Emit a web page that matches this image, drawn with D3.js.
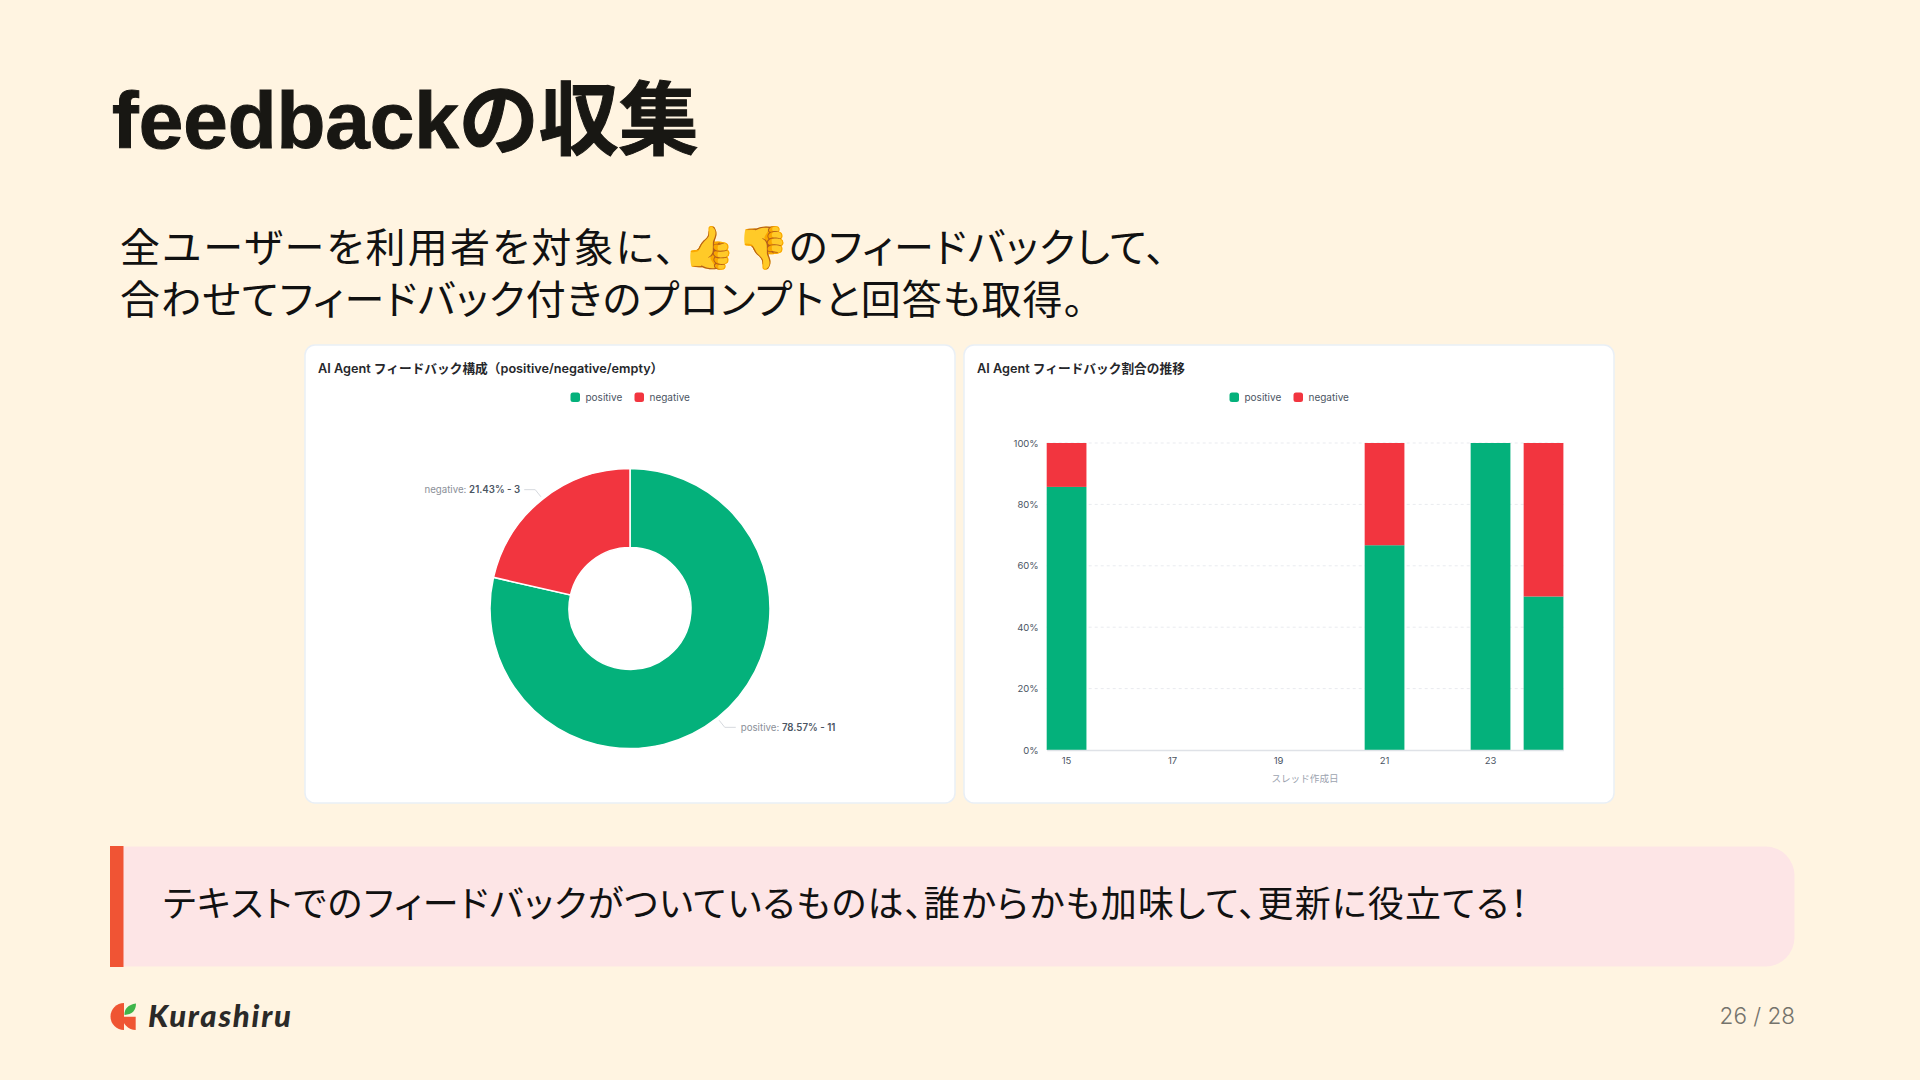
<!DOCTYPE html>
<html>
<head>
<meta charset="utf-8">
<style>
  html, body { margin: 0; padding: 0; background: #fff4e1; }
  svg { display: block; }
  .palt { font-feature-settings: "palt"; }
</style>
<script src="https://cdn.jsdelivr.net/npm/d3@7"></script>
</head>
<body>
<svg id="slide" width="1920" height="1080"></svg>
<script>
const titleText = "feedbackの収集";
const bodyLine1a = "全ユーザーを利用者を対象に、";
const emojiUp = "👍";
const emojiDown = "👎";
const bodyLine1b = "のフィードバックして、";
const bodyLine2 = "合わせてフィードバック付きのプロンプトと回答も取得。";
const calloutText = "テキストでのフィードバックがついているものは、誰からかも加味して、更新に役立てる！";
const pageText = "26 / 28";
const logoText = "Kurashiru";

const seriesNames = ["positive", "negative"];
const seriesColors = ["#04b17b", "#f2353f"];

const donutTitle = "AI Agent フィードバック構成（positive/negative/empty）";
const donutValues = [11, 3];
const donutPercents = ["78.57%", "21.43%"];

const barTitle = "AI Agent フィードバック割合の推移";
const days = [15, 16, 17, 18, 19, 20, 21, 22, 23, 24];
const dayTicks = [15, 17, 19, 21, 23];
const positivePct = [85.7, 0, 0, 0, 0, 0, 66.7, 0, 100, 50];
const negativePct = [14.3, 0, 0, 0, 0, 0, 33.3, 0, 0, 50];
const pctTicks = [0, 20, 40, 60, 80, 100];
const barAxisTitle = "スレッド作成日";

const jp = "'Noto Sans CJK JP', sans-serif";
const latin = "Inter, 'Noto Sans CJK JP', sans-serif";
const svg = d3.select("#slide");

svg.append("text").attr("x", 112).attr("y", 148)
  .attr("font-family", "'Liberation Sans', 'Noto Sans CJK JP', sans-serif")
  .attr("font-weight", 700).attr("font-size", 80).attr("fill", "#181713")
  .attr("stroke", "#181713").attr("stroke-width", 1)
  .text(titleText);

const line1 = svg.append("text").attr("class", "palt").attr("y", 262)
  .attr("font-family", jp).attr("font-size", 40).attr("fill", "#111");
line1.append("tspan").attr("x", 120).attr("letter-spacing", 2.2).text(bodyLine1a);
line1.append("tspan").attr("x", 683).attr("font-size", 42).text(emojiUp);
line1.append("tspan").attr("x", 737).attr("font-size", 42).text(emojiDown);
line1.append("tspan").attr("x", 789).attr("letter-spacing", 1.1).text(bodyLine1b);

svg.append("text").attr("class", "palt").attr("x", 120).attr("y", 314)
  .attr("font-family", jp).attr("font-size", 40).attr("fill", "#111")
  .attr("letter-spacing", 0.95)
  .text(bodyLine2);

// cards
function card(x) {
  svg.append("rect").attr("x", x).attr("y", 345).attr("width", 650).attr("height", 458)
    .attr("rx", 10).attr("fill", "#fff").attr("stroke", "#e9eff6").attr("stroke-width", 1.5);
}
card(305);
card(964);

function cardTitle(x, s) {
  svg.append("text").attr("x", x).attr("y", 373)
    .attr("font-family", latin).attr("font-weight", 600).attr("font-size", 12.7).attr("fill", "#26272b")
    .text(s);
}
cardTitle(318, donutTitle);
cardTitle(977, barTitle);

function legend(xs) {
  seriesNames.forEach((name, i) => {
    svg.append("rect").attr("x", xs[i]).attr("y", 392.5).attr("width", 9.5).attr("height", 9.5)
      .attr("rx", 2.5).attr("fill", seriesColors[i]);
    svg.append("text").attr("x", xs[i] + 15).attr("y", 401)
      .attr("font-family", latin).attr("font-size", 10).attr("fill", "#4b5563").text(name);
  });
}
legend([570.5, 634.5]);
legend([1229.5, 1293.5]);

// donut
const cx = 630, cy = 608.5, outerR = 140, innerR = 61;
const pieGen = d3.pie().sort(null).value(d => d);
const arcGen = d3.arc().innerRadius(innerR).outerRadius(outerR);
const donut = svg.append("g").attr("transform", `translate(${cx},${cy})`);
const slices = pieGen(donutValues);
donut.selectAll("path").data(slices).enter().append("path")
  .attr("d", arcGen)
  .attr("fill", (d, i) => seriesColors[i])
  .attr("stroke", "#fff").attr("stroke-width", 1.5);

const leaderInner = d3.arc().innerRadius(outerR + 3).outerRadius(outerR + 3);
const leaderOuter = d3.arc().innerRadius(outerR + 12).outerRadius(outerR + 12);
slices.forEach((s, i) => {
  const p0 = leaderInner.centroid(s), p1 = leaderOuter.centroid(s);
  const right = p0[0] > 0;
  const p2 = [p1[0] + (right ? 11 : -11), p1[1]];
  donut.append("path").attr("d", d3.line()([p0, p1, p2]))
    .attr("fill", "none").attr("stroke", "#d6d9de").attr("stroke-width", 1);
  const label = donut.append("text")
    .attr("x", p2[0] + (right ? 5 : -4)).attr("y", p2[1] + 3.5)
    .attr("text-anchor", right ? "start" : "end")
    .attr("font-family", latin).attr("font-size", 9.7);
  label.append("tspan").attr("fill", "#8b9099").text(seriesNames[i] + ": ");
  label.append("tspan").attr("fill", "#4b5563").attr("font-weight", 600)
    .text(`${donutPercents[i]} - ${donutValues[i]}`);
});

// stacked bars
const x = d3.scaleBand().domain(days).range([1046.7, 1563.4]).paddingInner(0.25).paddingOuter(0);
const y = d3.scaleLinear().domain([0, 100]).range([750, 443]);

svg.append("g").selectAll("line").data(pctTicks.slice(1)).enter().append("line")
  .attr("x1", x.range()[0]).attr("x2", x.range()[1]).attr("y1", d => y(d)).attr("y2", d => y(d))
  .attr("stroke", "#e9ebef").attr("stroke-width", 1).attr("stroke-dasharray", "3 3");

const rows = days.map((d, i) => ({ day: d, positive: positivePct[i], negative: negativePct[i] }));
const stacked = d3.stack().keys(seriesNames)(rows);
svg.append("g").selectAll("g").data(stacked).enter().append("g")
  .attr("fill", (d, i) => seriesColors[i])
  .selectAll("rect").data(d => d).enter().append("rect")
  .attr("x", d => x(d.data.day)).attr("width", x.bandwidth())
  .attr("y", d => y(d[1])).attr("height", d => y(d[0]) - y(d[1]));

const yAxis = svg.append("g").attr("transform", `translate(${x.range()[0]},0)`)
  .call(d3.axisLeft(y).tickValues(pctTicks).tickSize(0).tickPadding(8).tickFormat(d => d + "%"));
yAxis.select(".domain").remove();
yAxis.selectAll("text").attr("font-family", latin).attr("font-size", 9.5).attr("fill", "#4b5563");

const xAxis = svg.append("g").attr("transform", "translate(0,750)")
  .call(d3.axisBottom(x).tickValues(dayTicks).tickSize(0).tickPadding(7));
xAxis.select(".domain").attr("stroke", "#dfe2e7").attr("stroke-width", 1.5);
xAxis.selectAll("text").attr("font-family", latin).attr("font-size", 9.5).attr("fill", "#4b5563");

svg.append("text").attr("x", 1305).attr("y", 782).attr("text-anchor", "middle")
  .attr("font-family", jp).attr("font-size", 9.6).attr("fill", "#9ca3af").text(barAxisTitle);

// callout
const box = d3.path();
box.moveTo(110, 846.5);
box.lineTo(1765, 846.5);
box.arcTo(1794.5, 846.5, 1794.5, 876, 29);
box.lineTo(1794.5, 937);
box.arcTo(1794.5, 966.5, 1765, 966.5, 29);
box.lineTo(110, 966.5);
box.closePath();
svg.append("path").attr("d", box.toString()).attr("fill", "#fde5e6");
svg.append("rect").attr("x", 110).attr("y", 846).attr("width", 13.5).attr("height", 121).attr("fill", "#f05434");
svg.append("text").attr("class", "palt").attr("x", 163).attr("y", 917)
  .attr("font-family", jp).attr("font-size", 36).attr("letter-spacing", 1.2).attr("fill", "#111").text(calloutText);

// logo
const logo = svg.append("g").attr("fill", "#ef5533");
logo.append("path").attr("transform", "translate(124,1016.5)")
  .attr("d", d3.arc().innerRadius(0).outerRadius(13.5).startAngle(Math.PI).endAngle(2 * Math.PI)());
logo.append("path").attr("transform", "translate(135.7,1016.7)")
  .attr("d", d3.arc().innerRadius(0).outerRadius(13.3).startAngle(Math.PI).endAngle(1.5 * Math.PI)());
const leaf = d3.path();
leaf.moveTo(124.5, 1015);
leaf.quadraticCurveTo(124, 1005.5, 136, 1003.5);
leaf.quadraticCurveTo(136, 1014, 124.5, 1015);
svg.append("path").attr("d", leaf.toString()).attr("fill", "#3fb54a");
svg.append("text").attr("x", 148).attr("y", 1027)
  .attr("textLength", 143).attr("lengthAdjust", "spacing")
  .attr("font-family", "Lato, sans-serif").attr("font-style", "italic").attr("font-weight", 900)
  .attr("font-size", 31).attr("fill", "#2b2a28").text(logoText);

svg.append("text").attr("x", 1795).attr("y", 1024).attr("text-anchor", "end")
  .attr("font-family", "Inter, sans-serif").attr("font-weight", 300).attr("font-size", 22.5).attr("fill", "#75736c").text(pageText);
</script>
</body>
</html>
